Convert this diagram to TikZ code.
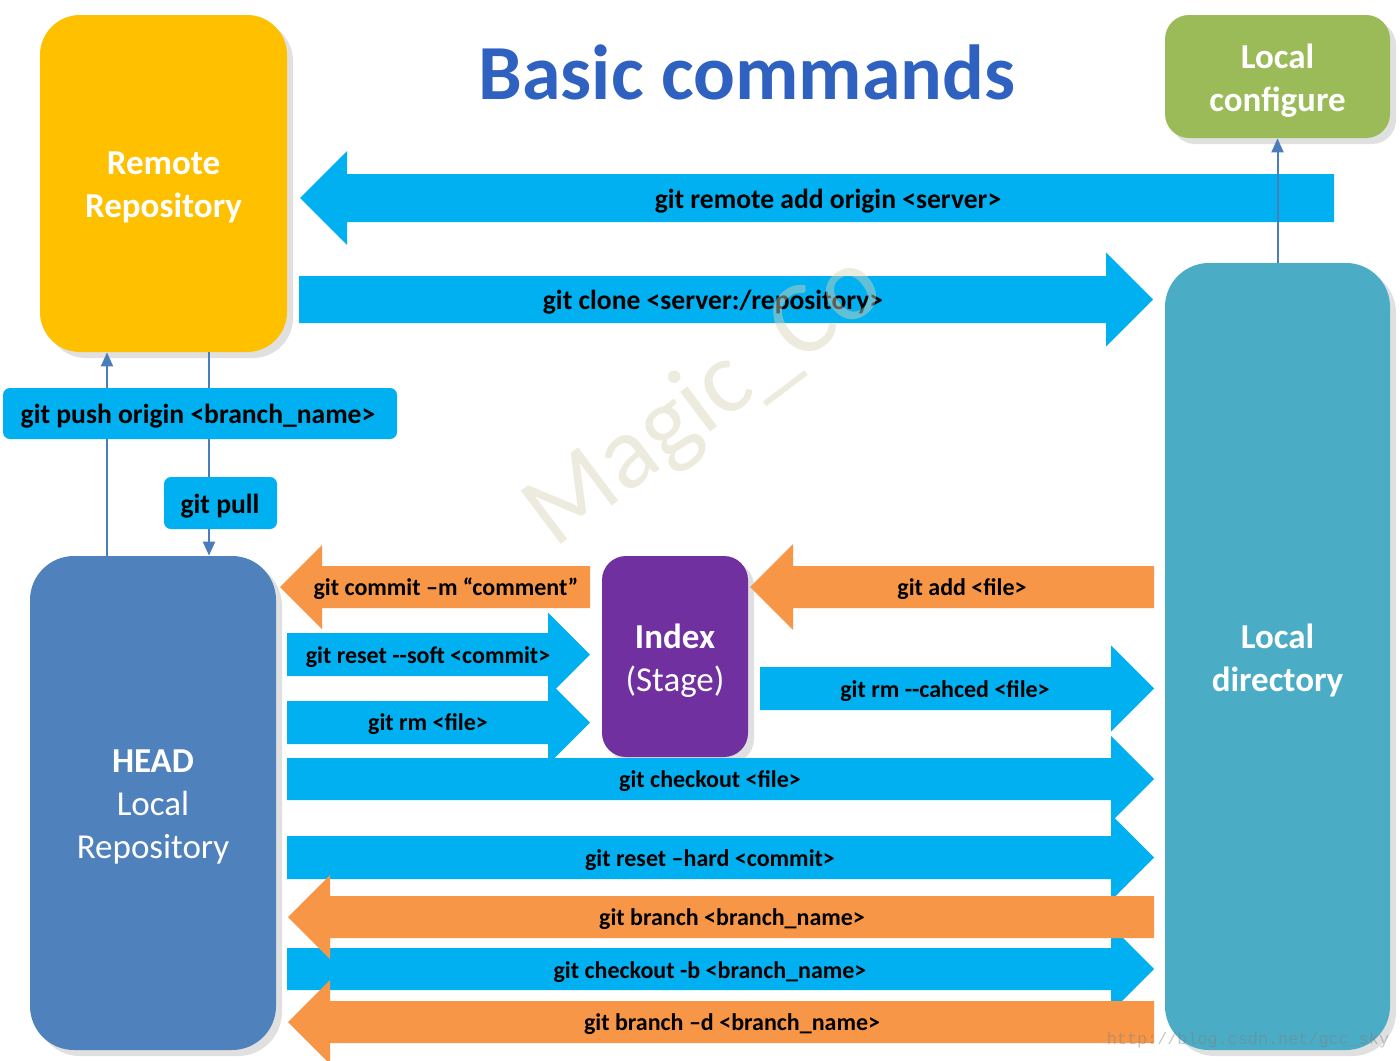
\documentclass[tikz,border=0pt]{standalone}
\usepackage{fontspec}
\setmainfont{Carlito}
\newfontfamily\urlfont{Liberation Mono}
\usetikzlibrary{arrows.meta,shadows}
\definecolor{cYellow}{HTML}{FFC000}
\definecolor{cGreen}{HTML}{9BBB59}
\definecolor{cTeal}{HTML}{4BACC6}
\definecolor{cHead}{HTML}{4F81BD}
\definecolor{cPurple}{HTML}{7030A0}
\definecolor{cBlue}{HTML}{00B0F0}
\definecolor{cOrange}{HTML}{F79646}
\definecolor{cLine}{HTML}{4A7EBB}
\definecolor{cTitle}{HTML}{2F62C0}
\definecolor{cWater}{HTML}{D9D2B8}
% right-pointing block arrow: colour, x start, x head base, x tip, y top, y bottom
\newcommand\cmdArrowR[6]{\fill[#1] (#2,#5) -- (#3,#5) -- (#3,{(#5+#6)/2-(#4-#3)}) -- (#4,{(#5+#6)/2}) -- (#3,{(#5+#6)/2+(#4-#3)}) -- (#3,#6) -- (#2,#6) -- cycle;}
% left-pointing block arrow: colour, x end (right), x head base, x tip, y top, y bottom
\newcommand\cmdArrowL[6]{\fill[#1] (#2,#5) -- (#3,#5) -- (#3,{(#5+#6)/2-(#3-#4)}) -- (#4,{(#5+#6)/2}) -- (#3,{(#5+#6)/2+(#3-#4)}) -- (#3,#6) -- (#2,#6) -- cycle;}
\begin{document}
\begin{tikzpicture}[x=0.5pt,y=-0.5pt,
  bigbox/.style={rounded corners=#1, inner sep=0pt,
     drop shadow={shadow xshift=3pt, shadow yshift=-3pt, opacity=0.12, fill=black}},
  bigbox/.default=20pt,
  boxtext/.style={text=white, align=center, inner sep=0pt, yshift=-2pt,
     font=\fontsize{17.5}{21.5}\selectfont},
  cmdbig/.style={font=\bfseries\fontsize{13.8}{16}\selectfont, text=black, inner sep=0pt, yshift=-1pt},
  cmdsmall/.style={font=\bfseries\fontsize{12}{14}\selectfont, text=black, inner sep=0pt, yshift=-1pt},
  tagbox/.style={fill=cBlue, rounded corners=3.5pt, inner sep=0pt},
  conn/.style={draw=cLine, line width=1pt, -{Triangle[width=6pt,length=7pt]}}
]
\useasboundingbox (0,0) rectangle (1400,1060);
\fill[white] (0,0) rectangle (1400,1060);

% title
\node[font=\bfseries\fontsize{39}{44}\selectfont, text=cTitle] (title) at (747,72) {Basic commands};

% boxes
\node[bigbox=20pt, fill=cYellow, minimum width=123.5pt, minimum height=168.5pt] (remote) at (163.5,183.5) {};
\node[boxtext] (remotetxt) at (remote.center) {\bfseries Remote\\\bfseries Repository};
\node[bigbox=12pt, fill=cGreen, minimum width=112.5pt, minimum height=61.5pt] (config) at (1277.5,76.5) {};
\node[boxtext] (configtxt) at (config.center) {\bfseries Local\\\bfseries configure};
\node[bigbox=22pt, fill=cTeal, minimum width=112.5pt, minimum height=393.5pt] (localdir) at (1277.5,656.5) {};
\node[boxtext] (localdirtxt) at (localdir.center) {\bfseries Local\\\bfseries directory};
\node[bigbox=22pt, fill=cHead, minimum width=123pt, minimum height=247pt] (head) at (153,803) {};
\node[boxtext] (headtxt) at (head.center) {\bfseries HEAD\\Local\\Repository};
\node[bigbox=12pt, fill=cPurple, minimum width=73pt, minimum height=100.5pt] (index) at (675,656.5) {};
\node[boxtext] (indextxt) at (index.center) {\bfseries Index\\(Stage)};

% top arrows
\cmdArrowL{cBlue}{1334}{347}{300}{174}{222}
\node[cmdbig] (remoteadd) at (828,199) {git remote add origin <server>};
\cmdArrowR{cBlue}{299}{1106}{1153}{276}{323}
\node[cmdbig] (clone) at (713,300) {git clone <server:/repository>};

% push / pull connectors
\coordinate (pushx) at (107,0);
\coordinate (pullx) at (209,0);
\draw[conn] (pushx |- head.north) -- (pushx |- remote.south);
\draw[conn] (pullx |- remote.south) -- (pullx |- head.north);
\node[tagbox, minimum width=197pt, minimum height=25.5pt] (pushbox) at (200,413.5) {};
\node[cmdbig] (push) at (198,414) {git push origin <branch\_name>};
\node[tagbox, minimum width=56.5pt, minimum height=26pt] (pullbox) at (220.5,503) {};
\node[cmdbig] (pull) at (220,504) {git pull};

% config connector
\draw[conn] (localdir.north) -- (config.south);

% index arrows
\cmdArrowL{cOrange}{590}{322}{280}{566}{608}
\node[cmdsmall] (commit) at (446,587) {git commit –m “comment”};
\cmdArrowR{cBlue}{287}{548}{590}{633}{676}
\node[cmdsmall] (resetsoft) at (428,655) {git reset -{}-soft <commit>};
\cmdArrowR{cBlue}{287}{548}{590}{701}{744}
\node[cmdsmall] (rmfile) at (428,722) {git rm <file>};
\cmdArrowL{cOrange}{1154}{793}{750}{566}{608}
\node[cmdsmall] (add) at (962,587) {git add <file>};
\cmdArrowR{cBlue}{760}{1111}{1154}{667}{710}
\node[cmdsmall] (rmcached) at (945,689) {git rm -{}-cahced <file>};

% long arrows
\cmdArrowR{cBlue}{287}{1111}{1154}{758}{800}
\node[cmdsmall] (checkoutfile) at (710,779) {git checkout <file>};
\cmdArrowR{cBlue}{287}{1111}{1154}{836}{879}
\node[cmdsmall] (resethard) at (710,858) {git reset –hard <commit>};
\cmdArrowR{cBlue}{287}{1111}{1154}{948}{990}
\node[cmdsmall] (checkoutb) at (710,970) {git checkout -b <branch\_name>};
\cmdArrowL{cOrange}{1154}{330}{288}{896}{938}
\node[cmdsmall] (branch) at (732,917) {git branch <branch\_name>};
\cmdArrowL{cOrange}{1154}{330}{288}{1001}{1043}
\node[cmdsmall] (branchd) at (732,1022) {git branch –d <branch\_name>};

% watermarks
\node[rotate=37, text=cWater, opacity=0.45, font=\fontsize{52}{60}\selectfont] (wm) at (705,402) {Magic\_Co};
\node[font=\urlfont\fontsize{8.4}{10}\selectfont, text=gray, opacity=0.45] (url) at (1248,1040) {http://blog.csdn.net/gcc\_sky};
\end{tikzpicture}
\end{document}
